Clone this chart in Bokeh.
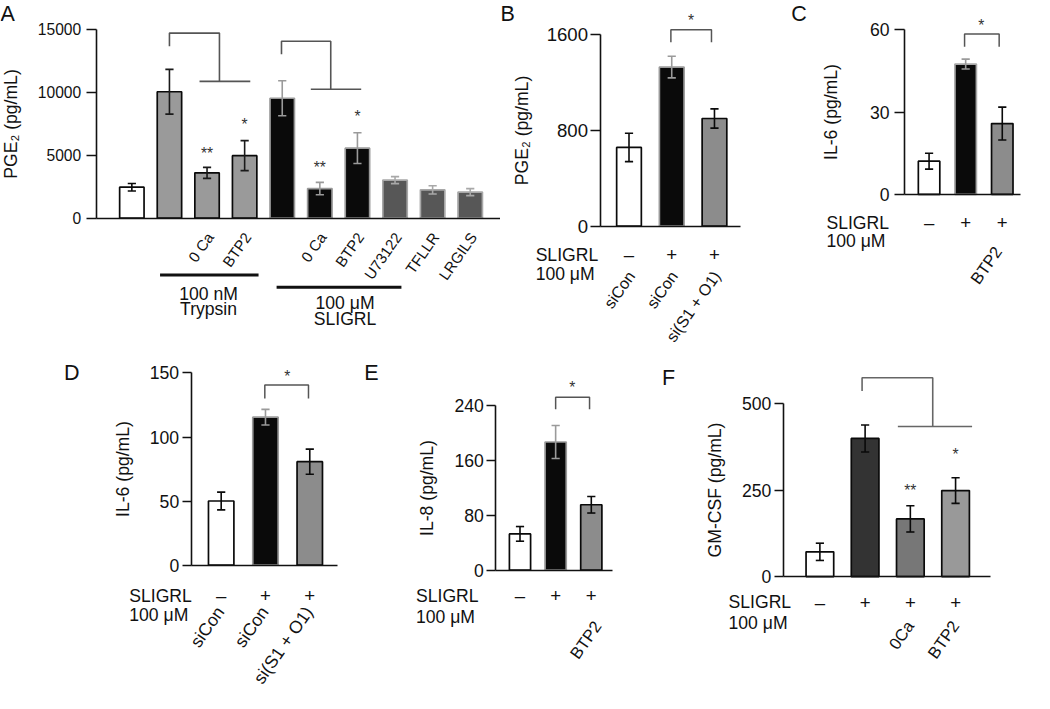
import numpy as np
from bokeh.plotting import figure
from bokeh.models import Range1d, LinearAxis, FixedTicker, ColumnDataSource, NumeralTickFormatter
from bokeh.layouts import row, column
from bokeh.core.properties import value
from bokeh.embed import file_html
from bokeh.resources import INLINE

# ---------------- data ----------------
A_values = [2450, 10040, 3590, 4960, 9520, 2345, 5555, 3015, 2240, 2060]
A_errors = [300, 1780, 440, 1190, 1390, 490, 1220, 280, 330, 280]
A_labels = ["", "", "0 Ca", "BTP2", "", "0 Ca", "BTP2", "U73122", "TFLLR", "LRGILS"]
A_ticks = [0, 5000, 10000, 15000]
A_star_x = [3, 4, 6, 7]
A_star_y = [5480, 7730, 4310, 8350]
A_star_t = ["**", "*", "**", "*"]

B_values = [655, 1325, 896]
B_errors = [118, 90, 80]
B_signs = ["\u2013", "+", "+"]
B_labels = ["siCon", "siCon", "si(S1 + O1)"]
B_ticks = [0, 800, 1600]

C_values = [12.1, 47.5, 25.8]
C_errors = [2.9, 1.8, 6.0]
C_signs = ["\u2013", "+", "+"]
C_labels = ["", "", "BTP2"]
C_ticks = [0, 30, 60]

D_values = [50.1, 115.5, 80.8]
D_errors = [6.9, 6.1, 9.8]
D_signs = ["\u2013", "+", "+"]
D_labels = ["siCon", "siCon", "si(S1 + O1)"]
D_ticks = [0, 50, 100, 150]

E_values = [52.8, 186.8, 95.3]
E_errors = [10.7, 24.0, 12.1]
E_signs = ["\u2013", "+", "+"]
E_labels = ["", "", "BTP2"]
E_ticks = [0, 80, 160, 240]

F_values = [71.6, 400, 167, 249]
F_errors = [25, 39, 38, 37]
F_signs = ["\u2013", "+", "+", "+"]
F_labels = ["", "", "0Ca", "BTP2"]
F_ticks = [0, 250, 500]
F_star_x = [3, 4]
F_star_y = [262, 364]
F_star_t = ["**", "*"]

# ---------------- styling ----------------
S = 0.977
FONT = "Liberation Sans"
WH, BK, GR, DG, LG = "#ffffff", "#0a0a0a", "#9a9a9a", "#575757", "#a8a8a8"
ROT = 0.96


def fs(px):
    return f"{px * S:.1f}px"


class Geo:
    def __init__(self, L, R, T, B, c1, d, y0, ytop, vmax):
        self.L, self.R, self.T, self.B = L, R, T, B
        self.c1, self.d, self.y0 = c1, d, y0
        self.k = vmax / (y0 - ytop)

    def X(self, px):
        return 1 + (px - self.c1) / self.d

    def Y(self, py):
        return (self.y0 - py) * self.k


def txt(p, x, y, t, size, align="center", baseline="middle", angle=0.0, color="#111111", yoff=0):
    p.text(x=x, y=y, text=t, text_font=value(FONT), text_font_size=fs(size),
           text_align=align, text_baseline=baseline, angle=angle, text_color=color, y_offset=yoff)


def build(g, vals, errs, fills, lcols, ecols, ticks, ylabel, axis_px, base_px, bw_px,
          letter, letter_xy, tick_fs=17, lab_fs=18, lab_std=12, tick_std=4, tick_out=9):
    p = figure(width=round((g.R - g.L) * S), height=round((g.B - g.T) * S),
               x_range=Range1d(g.X(g.L), g.X(g.R)), y_range=Range1d(g.Y(g.B), g.Y(g.T)),
               x_axis_type=None, y_axis_type=None, toolbar_location=None,
               output_backend="svg", min_border=0, outline_line_color=None,
               background_fill_color="white", border_fill_color="white")
    n = len(vals)
    xs = np.arange(1, n + 1, dtype=float)
    src = ColumnDataSource(dict(x=xs, top=vals, fill=fills, line=lcols))
    p.vbar(x="x", top="top", bottom=0, width=bw_px / g.d, fill_color="fill",
           line_color="line", line_width=1.7, source=src)
    v = np.array(vals, dtype=float)
    e = np.array(errs, dtype=float)
    cw = 4.2 / g.d
    esrc = ColumnDataSource(dict(x=xs, lo=v - e, hi=v + e, xl=xs - cw, xr=xs + cw, c=ecols))
    for a in (("x", "lo", "x", "hi"), ("xl", "hi", "xr", "hi"), ("xl", "lo", "xr", "lo")):
        p.segment(x0=a[0], y0=a[1], x1=a[2], y1=a[3], line_color="c", line_width=1.6, source=esrc)

    ya = LinearAxis(fixed_location=g.X(axis_px), bounds=(0, ticks[-1]),
                    ticker=FixedTicker(ticks=ticks), formatter=NumeralTickFormatter(format="0"),
                    axis_label=ylabel, axis_line_width=1.6, axis_line_color="#111111",
                    major_tick_line_width=1.6, major_tick_line_color="#111111",
                    major_tick_out=round(tick_out * S), major_tick_in=0,
                    minor_tick_line_color=None,
                    major_label_text_font=FONT, major_label_text_font_size=fs(tick_fs),
                    major_label_text_color="#111111", major_label_standoff=tick_std,
                    axis_label_text_font=FONT, axis_label_text_font_size=fs(lab_fs),
                    axis_label_text_font_style="normal", axis_label_text_color="#111111",
                    axis_label_standoff=lab_std)
    p.add_layout(ya, "left")
    xa = LinearAxis(fixed_location=0, bounds=(g.X(axis_px), g.X(base_px)),
                    ticker=FixedTicker(ticks=[]), axis_line_width=1.6, axis_line_color="#111111",
                    major_tick_line_color=None, minor_tick_line_color=None,
                    major_label_text_font_size="0px")
    p.add_layout(xa, "below")
    txt(p, [g.X(letter_xy[0])], [g.Y(letter_xy[1])], [letter], 22, align="left", baseline="top")
    return p, xs


def row_labels(p, g, xs, signs, labels, left_px, sign_y, unit_y, rot_y, rot_dx=1, rot_fs=17):
    txt(p, [g.X(left_px)], [g.Y(sign_y)], ["SLIGRL"], 18, align="left")
    txt(p, [g.X(left_px)], [g.Y(unit_y)], ["100 \u03bcM"], 18, align="left")
    txt(p, list(xs), [g.Y(sign_y)] * len(xs), signs, 19)
    rx = [x + rot_dx / g.d for x, l in zip(xs, labels) if l]
    rl = [l for l in labels if l]
    txt(p, rx, [g.Y(rot_y)] * len(rl), rl, rot_fs, align="right", angle=ROT)


def bracket(p, x1, x2, lo, hi, star_x, star_y, color="#555555"):
    p.line(x=[x1, x1, x2, x2], y=[lo, hi, hi, lo], line_color=color, line_width=1.5)
    txt(p, [star_x], [star_y], ["*"], 16, color="#333333", yoff=4)


TOP_H, BOT_T = 358, 358

# ---------------- panel A ----------------
gA = Geo(0, 512, 0, TOP_H, 134.5, 38.5, 222.5, 29.5, 15000)
pA, xA = build(gA, A_values, A_errors,
               [WH, GR, GR, GR, BK, BK, BK, DG, DG, DG],
               [BK, BK, BK, BK, GR, GR, GR, LG, LG, LG],
               [BK, "#1a1a1a", "#1a1a1a", "#1a1a1a", GR, GR, GR, LG, LG, LG],
               A_ticks, "PGE\u2082 (pg/mL)", 98, 512, 25, "A", (0, 2),
               tick_fs=16, lab_fs=18, lab_std=14, tick_std=5, tick_out=10)
rl = [l for l in A_labels if l]
rx = [x + 3 / gA.d for x, l in zip(xA, A_labels) if l]
txt(pA, rx, [gA.Y(239)] * len(rl), rl, 15.5, align="right", angle=ROT)
txt(pA, A_star_x, A_star_y, A_star_t, 16, color="#333333", yoff=4)
pA.multi_line(xs=[[2.0, 2.0, 3.33, 3.33], [2.8, 4.15], [4.98, 4.98, 6.29, 6.29], [5.76, 7.10]],
              ys=[[13660, 14700, 14700, 10860], [10860, 10860], [13015, 14050, 14050, 10240], [10240, 10240]],
              line_color="#555555", line_width=1.6)
pA.multi_line(xs=[[1.75, 4.37], [4.85, 8.17]], ys=[[gA.Y(280.7)] * 2, [gA.Y(293.3)] * 2],
              line_color="#111111", line_width=3)
txt(pA, [3.04, 3.04], [gA.Y(300), gA.Y(316)], ["100 nM", "Trypsin"], 18)
txt(pA, [6.67, 6.67], [gA.Y(309), gA.Y(326)], ["100 \u03bcM", "SLIGRL"], 18)

# ---------------- panel B ----------------
gB = Geo(512, 800, 0, TOP_H, 643.7, 43.8, 230.7, 34.3, 1600)
pB, xB = build(gB, B_values, B_errors, [WH, BK, "#8c8c8c"], [BK, GR, BK], [BK, GR, BK],
               B_ticks, "PGE\u2082 (pg/mL)", 614, 758, 25.3, "B", (512, 2),
               tick_fs=19, lab_fs=18, lab_std=12, tick_std=2, tick_out=10)
row_labels(pB, gB, xB, B_signs, B_labels, 548, 260, 280, 278.4, rot_dx=2, rot_fs=16.5)
bracket(pB, 1.98, 2.93, 1532, 1635, 2.45, 1743)

# ---------------- panel C ----------------
gC = Geo(800, 1050, 0, TOP_H, 951.2, 37.5, 198.3, 30, 60)
pC, xC = build(gC, C_values, C_errors, [WH, BK, "#8c8c8c"], [BK, LG, BK], [BK, GR, BK],
               C_ticks, "IL-6 (pg/mL)", 926, 1045, 22, "C", (810, 2),
               tick_fs=18, lab_fs=18, lab_std=26, tick_std=5, tick_out=10)
row_labels(pC, gC, xC, C_signs, C_labels, 846, 227.5, 246.5, 253.6, rot_dx=-4, rot_fs=17)
bracket(pC, 1.97, 2.915, 53.8, 58.5, 2.43, 63)

# ---------------- panel D ----------------
gD = Geo(0, 360, BOT_T, 709, 225.7, 45.3, 577.7, 381, 150)
pD, xD = build(gD, D_values, D_errors, [WH, BK, "#8c8c8c"], [BK, GR, BK], [BK, GR, BK],
               D_ticks, "IL-6 (pg/mL)", 195, 345, 26, "D", (65, 369),
               tick_fs=18, lab_fs=18, lab_std=14, tick_std=3, tick_out=9)
row_labels(pD, gD, xD, D_signs, D_labels, 131.7, 609, 629, 622, rot_dx=-1, rot_fs=18)
bracket(pD, 1.985, 2.971, 130, 140.6, 2.49, 150.2)

# ---------------- panel E ----------------
gE = Geo(360, 660, BOT_T, 709, 531.5, 36.5, 582.7, 414.3, 240)
pE, xE = build(gE, E_values, E_errors, [WH, BK, "#8c8c8c"], [BK, GR, BK], [BK, GR, BK],
               E_ticks, "IL-8 (pg/mL)", 506.7, 626.7, 21.7, "E", (372, 369),
               tick_fs=18, lab_fs=18, lab_std=14, tick_std=3, tick_out=9)
row_labels(pE, gE, xE, E_signs, E_labels, 425, 609, 630.5, 637, rot_dx=6.7, rot_fs=17)
bracket(pE, 2.0, 2.951, 234.4, 252, 2.466, 272.4)

# ---------------- panel F ----------------
gF = Geo(660, 1050, BOT_T, 709, 838.5, 46.3, 589.3, 412.7, 500)
pF, xF = build(gF, F_values, F_errors, [WH, "#333333", "#777777", "#999999"], [BK, BK, BK, BK],
               [BK, BK, BK, BK], F_ticks, "GM-CSF (pg/mL)", 801, 1012.7, 28.3, "F", (677, 374),
               tick_fs=18, lab_fs=18, lab_std=14, tick_std=3, tick_out=9)
row_labels(pF, gF, xF, F_signs, F_labels, 745, 615.5, 636.5, 636.6, rot_dx=0, rot_fs=17)
pF.multi_line(xs=[[1.933, 1.933, 3.495, 3.495], [2.724, 4.365]],
              ys=[[537.6, 576, 576, 434.7], [434.7, 434.7]], line_color="#666666", line_width=1.6)
txt(pF, F_star_x, F_star_y, F_star_t, 16, color="#333333", yoff=4)

layout = column(row(pA, pB, pC), row(pD, pE, pF))
open("out.html", "w").write(file_html(layout, INLINE))
